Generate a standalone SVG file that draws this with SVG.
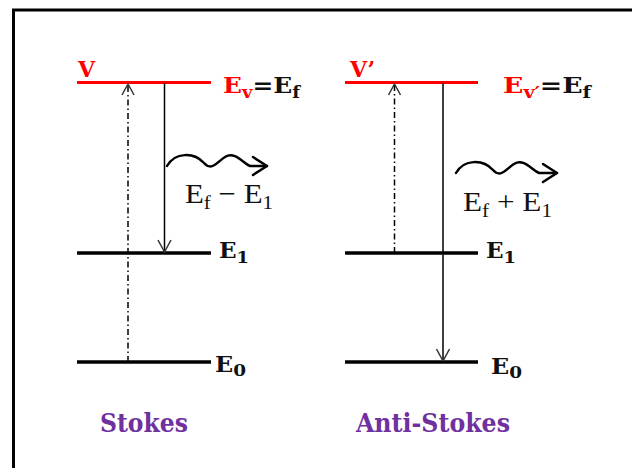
<svg xmlns="http://www.w3.org/2000/svg" width="632" height="468" viewBox="0 0 632 468">
<defs>
<style>
.lvl{stroke:#000;stroke-width:3.5;fill:none}
.vl{stroke:#FF0000;stroke-width:3;fill:none}
.ar{stroke:#000;stroke-width:1.5;fill:none}
.dd{stroke:#000;stroke-width:1.5;fill:none;stroke-dasharray:6 3 1.5 3}
.head{stroke:#333;stroke-width:1.5;fill:none}
.wave{stroke:#000;stroke-width:2.5;fill:none;stroke-linecap:round;stroke-linejoin:round}
.lab{font-family:"DejaVu Serif","Liberation Serif",serif;font-weight:bold;font-size:22px;fill:#111}
.red{fill:#FF0000}
.eq{font-family:"Liberation Serif","DejaVu Serif",serif;font-size:28px;fill:#111}
.name{font-family:"DejaVu Serif","Liberation Serif",serif;font-weight:bold;font-size:26px;fill:#7030A0}
</style>
</defs>
<rect width="632" height="468" fill="#fff"/>
<polyline points="13.5,470 13.5,10 640,10" stroke="#000" stroke-width="3" fill="none"/>

<g id="stokes">
  <g id="s-levelV"><line class="vl" x1="77" y1="82.5" x2="211" y2="82.5"/>
    <text class="lab red" x="78" y="77" font-size="23">V</text>
    <text class="lab" x="223" y="93" textLength="77" lengthAdjust="spacingAndGlyphs"><tspan class="red">E</tspan><tspan class="red" font-size="16" dy="5">v</tspan><tspan dy="-5">=E</tspan><tspan font-size="16" dy="5">f</tspan></text>
  </g>
  <g id="s-levelE1"><line class="lvl" x1="77" y1="253" x2="211" y2="253"/>
    <text class="lab" x="219" y="258" textLength="30" lengthAdjust="spacingAndGlyphs">E<tspan font-size="17" dy="5">1</tspan></text>
  </g>
  <g id="s-levelE0"><line class="lvl" x1="77" y1="362" x2="211" y2="362"/>
    <text class="lab" x="215" y="372" textLength="31" lengthAdjust="spacingAndGlyphs">E<tspan font-size="17" dy="4">0</tspan></text>
  </g>
  <g id="s-photon">
    <path class="wave" d="M167,166 C175,152 194,152 204,163 C212,172 218,161 225,157 C235,151 243,163 250,166 L267,166"/>
    <polyline class="wave" points="253,157 267,166 253,175"/>
    <text class="eq" x="185" y="203" textLength="88" lengthAdjust="spacingAndGlyphs">E<tspan font-size="19" dy="6">f</tspan><tspan dy="-6"> − E</tspan><tspan font-size="19" dy="6">1</tspan></text>
  </g>
  <text id="s-name" class="name" x="100" y="432" textLength="88" lengthAdjust="spacingAndGlyphs">Stokes</text>
</g>

<g id="antistokes">
  <g id="a-levelV"><line class="vl" x1="345" y1="82.5" x2="478" y2="82.5"/>
    <text class="lab red" x="350" y="77" font-size="23">V’</text>
    <text class="lab" x="503" y="93" textLength="88" lengthAdjust="spacingAndGlyphs"><tspan class="red">E</tspan><tspan class="red" font-size="16" dy="5">v′</tspan><tspan dy="-5">=E</tspan><tspan font-size="16" dy="5">f</tspan></text>
  </g>
  <g id="a-levelE1"><line class="lvl" x1="345" y1="253" x2="478" y2="253"/>
    <text class="lab" x="486" y="258" textLength="30" lengthAdjust="spacingAndGlyphs">E<tspan font-size="17" dy="5">1</tspan></text>
  </g>
  <g id="a-levelE0"><line class="lvl" x1="345" y1="362" x2="478" y2="362"/>
    <text class="lab" x="491" y="374" textLength="31" lengthAdjust="spacingAndGlyphs">E<tspan font-size="17" dy="4">0</tspan></text>
  </g>
  <g id="a-photon">
    <path class="wave" d="M456,173 C464,159 483,159 493,170 C501,179 507,168 514,164 C524,158 532,170 539,173 L557,173"/>
    <polyline class="wave" points="543,164 557,173 543,182"/>
    <text class="eq" x="463" y="211" textLength="89" lengthAdjust="spacingAndGlyphs">E<tspan font-size="19" dy="6">f</tspan><tspan dy="-6"> + E</tspan><tspan font-size="19" dy="6">1</tspan></text>
  </g>
  <text id="a-name" class="name" x="356" y="432" textLength="154" lengthAdjust="spacingAndGlyphs">Anti-Stokes</text>
</g>

<g id="connectors">
  <line class="dd" x1="128" y1="362" x2="128" y2="85"/>
  <polyline class="head" points="122,95 128,84 134,95"/>
  <line class="ar" x1="164.5" y1="83" x2="164.5" y2="252"/>
  <polyline class="head" points="158,240 164.5,252 171,240"/>
  <line class="dd" x1="394.5" y1="253" x2="394.5" y2="85"/>
  <polyline class="head" points="388.5,95 394.5,84 400.5,95"/>
  <line class="ar" x1="443" y1="83" x2="443" y2="361"/>
  <polyline class="head" points="436.5,349 443,361 449.5,349"/>
</g>
</svg>
